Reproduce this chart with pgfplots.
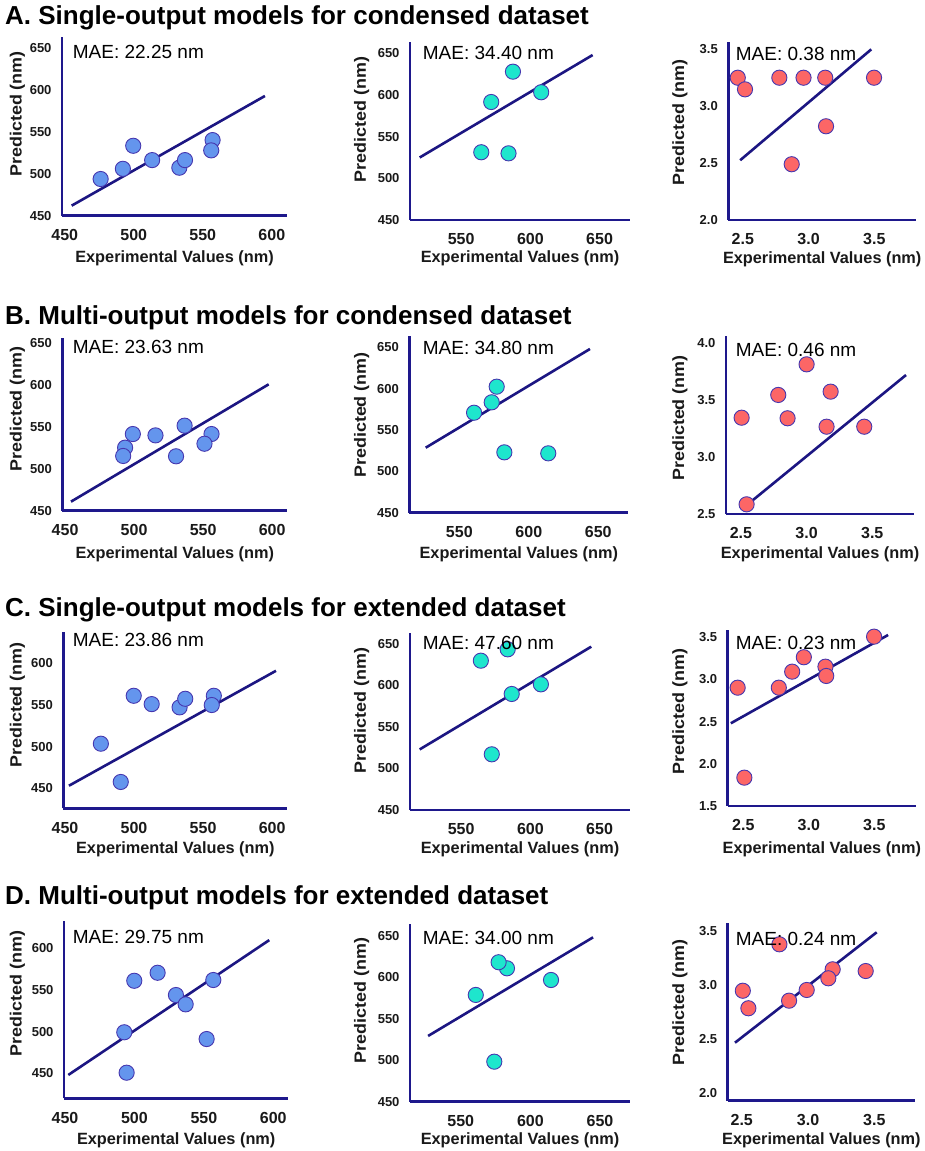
\documentclass[border=0pt]{standalone}
\usepackage{fontspec}
\setmainfont{Liberation Sans}
\usepackage{pgfplots}
\pgfplotsset{compat=1.18}

\definecolor{axisnavy}{RGB}{30,24,140}
\definecolor{fitnavy}{RGB}{28,22,130}
\definecolor{ptblue}{RGB}{100,149,237}
\definecolor{ptcyan}{RGB}{30,230,205}
\definecolor{ptred}{RGB}{252,102,102}
\definecolor{ptedge}{RGB}{70,55,175}

\pgfplotsset{
  panel/.style={
    scale only axis, anchor=south west, clip=false,
    axis x line=bottom, axis y line=left,
    axis line style={-, draw=axisnavy, line width=2.8pt},
    major tick length=0pt,
    /pgf/number format/assume math mode=true,
    xticklabel style={font=\fontsize{16}{18}\selectfont\bfseries, text=black!90, yshift=-10pt},
    yticklabel style={font=\fontsize{13}{15}\selectfont\bfseries, text=black!90, xshift=-7pt},
  },
  onedec/.style={
    xticklabel style={/pgf/number format/.cd, fixed, fixed zerofill, precision=1},
    yticklabel style={/pgf/number format/.cd, fixed, fixed zerofill, precision=1},
  },
  fit/.style={draw=fitnavy, line width=2.6pt, no marks},
  pts/.style={only marks, mark=*, mark size=7.6pt,
    mark options={fill=#1, draw=ptedge, line width=0.9pt}},
}
\newcommand{\mae}[3]{\node[anchor=west, inner sep=0pt, font=\fontsize{19}{22}\selectfont] at (#1pt,#2pt) {MAE: #3 nm};}
\newcommand{\xlab}[2]{\node[font=\fontsize{16.3}{18}\selectfont\bfseries, text=black!90] at (#1pt,#2pt) {Experimental Values (nm)};}
\newcommand{\ylab}[2]{\node[rotate=90, font=\fontsize{16.3}{18}\selectfont\bfseries, text=black!90] at (#1pt,#2pt) {\scalebox{1.1}[1]{Predicted (nm)}};}
\newcommand{\rowtitle}[2]{\node[anchor=west, inner sep=0pt, font=\fontsize{26}{30}\selectfont\bfseries] at (5pt,#1pt) {#2};}

\begin{document}
\begin{tikzpicture}
\path[use as bounding box] (0pt,0pt) rectangle (925pt,1151pt);

% ---------------- Row A ----------------
\rowtitle{1133}{A. Single-output models for condensed dataset}
\begin{axis}[panel, at={(62pt,935.3pt)}, width=225pt, height=179pt,
  xmin=448, xmax=611, ymin=450, ymax=663.8,
  xtick={450,500,550,600}, ytick={450,500,550,600,650}]
  \addplot[fit] coordinates {(455,462) (595,593)};
  \addplot[pts=ptblue] coordinates {
    (476,493.8) (492.1,506) (499.6,533.5) (513.3,516.4)
    (533,507.3) (537.1,516.4) (557.1,540.3) (556.1,528)};
\end{axis}
\begin{axis}[panel, at={(410pt,931pt)}, width=220pt, height=178.3pt,
  xmin=513, xmax=672, ymin=450, ymax=664,
  xtick={550,600,650}, ytick={450,500,550,600,650}]
  \addplot[fit] coordinates {(520,525) (645,648)};
  \addplot[pts=ptcyan] coordinates {
    (587.4,628) (571.7,591.6) (607.8,603.3) (564.5,531.3) (584.2,530)};
\end{axis}
\begin{axis}[panel, onedec, at={(728.3pt,931pt)}, width=187.7pt, height=178.3pt,
  xmin=2.39, xmax=3.817, ymin=2.0, ymax=3.564,
  xtick={2.5,3.0,3.5}, ytick={2.0,2.5,3.0,3.5}]
  \addplot[fit] coordinates {(2.48,2.524) (3.477,3.497)};
  \addplot[pts=ptred] coordinates {
    (2.462,3.248) (2.517,3.146) (2.778,3.248) (2.962,3.248)
    (3.127,3.248) (3.498,3.248) (3.133,2.822) (2.872,2.489)};
\end{axis}
\mae{72.7}{1099.3}{22.25}
\mae{422.7}{1098.3}{34.40}
\mae{735.7}{1097}{0.38}
\xlab{174.5}{892.7} \xlab{520}{892.7} \xlab{822.2}{892.2}
\ylab{17.3}{1037} \ylab{361.7}{1031.5} \ylab{680}{1028.5}

% ---------------- Row B ----------------
\rowtitle{833}{B. Multi-output models for condensed dataset}
\begin{axis}[panel, at={(62.3pt,640.3pt)}, width=225pt, height=172.4pt,
  xmin=448, xmax=611, ymin=450, ymax=656,
  xtick={450,500,550,600}, ytick={450,500,550,600,650}]
  \addplot[fit] coordinates {(454.3,460.8) (597.5,601)};
  \addplot[pts=ptblue] coordinates {
    (493.5,525.3) (492.1,515.4) (499.1,541.6) (515.5,540)
    (536.6,551.6) (530.4,515) (556.1,541.6) (551,530)};
\end{axis}
\begin{axis}[panel, at={(409.3pt,638.3pt)}, width=219pt, height=176.7pt,
  xmin=514, xmax=671.6, ymin=450, ymax=663.7,
  xtick={550,600,650}, ytick={450,500,550,600,650}]
  \addplot[fit] coordinates {(525.8,528.6) (644,648)};
  \addplot[pts=ptcyan] coordinates {
    (560.6,570.9) (573.3,583.5) (576.9,602.4) (582.4,523) (614,521.8)};
\end{axis}
\begin{axis}[panel, onedec, at={(726pt,637pt)}, width=188pt, height=178pt,
  xmin=2.386, xmax=3.818, ymin=2.5, ymax=4.064,
  xtick={2.5,3.0,3.5}, ytick={2.5,3.0,3.5,4.0}]
  \addplot[fit] coordinates {(2.576,2.608) (3.757,3.721)};
  \addplot[pts=ptred] coordinates {
    (2.505,3.346) (2.543,2.585) (2.784,3.546) (2.855,3.341)
    (3.0,3.815) (3.183,3.575) (3.152,3.267) (3.439,3.267)};
\end{axis}
\mae{72.7}{804.3}{23.63}
\mae{422.7}{803.3}{34.80}
\mae{735.7}{801}{0.46}
\xlab{174.8}{597} \xlab{518.8}{597} \xlab{820}{597}
\ylab{17.3}{742} \ylab{361.7}{736} \ylab{680}{733}

% ---------------- Row C ----------------
\rowtitle{541}{C. Single-output models for extended dataset}
\begin{axis}[panel, at={(63.3pt,342.7pt)}, width=224pt, height=176.6pt,
  xmin=448.8, xmax=611, ymin=426, ymax=637.9,
  xtick={450,500,550,600}, ytick={450,500,550,600}]
  \addplot[fit] coordinates {(452.9,453.1) (602.8,591)};
  \addplot[pts=ptblue] coordinates {
    (476,503.5) (490.4,457.6) (499.8,561) (512.8,551)
    (533,547.1) (537.1,557.4) (557.8,561) (556.3,549.9)};
\end{axis}
\begin{axis}[panel, at={(410pt,341pt)}, width=220pt, height=176.7pt,
  xmin=513, xmax=672, ymin=450, ymax=662.9,
  xtick={550,600,650}, ytick={450,500,550,600,650}]
  \addplot[fit] coordinates {(520,523) (644,646.8)};
  \addplot[pts=ptcyan] coordinates {
    (564.2,629.9) (583.6,643.6) (586.5,589.8) (607.6,601.4) (572.1,517.1)};
\end{axis}
\begin{axis}[panel, onedec, at={(727.7pt,345pt)}, width=188.3pt, height=176pt,
  xmin=2.381, xmax=3.818, ymin=1.5, ymax=3.587,
  xtick={2.5,3.0,3.5}, ytick={1.5,2.0,2.5,3.0,3.5}]
  \addplot[fit] coordinates {(2.405,2.481) (3.605,3.528)};
  \addplot[pts=ptred] coordinates {
    (2.457,2.903) (2.508,1.836) (2.771,2.903) (2.873,3.093)
    (2.962,3.264) (3.127,3.152) (3.133,3.042) (3.498,3.508)};
\end{axis}
\mae{72.7}{511}{23.86}
\mae{422.7}{508.3}{47.60}
\mae{735.7}{507.7}{0.23}
\xlab{175.3}{302} \xlab{520}{302} \xlab{821.9}{302}
\ylab{17.3}{446} \ylab{361.7}{440.7} \ylab{680}{439.3}

% ---------------- Row D ----------------
\rowtitle{253}{D. Multi-output models for extended dataset}
\begin{axis}[panel, at={(64pt,52.7pt)}, width=224.3pt, height=177.3pt,
  xmin=449.3, xmax=610.8, ymin=420, ymax=632.7,
  xtick={450,500,550,600}, ytick={450,500,550,600}]
  \addplot[fit] coordinates {(452.4,448) (597.1,609.8)};
  \addplot[pts=ptblue] coordinates {
    (499.9,561) (516.7,570.6) (556.8,561.9) (529.9,543.9)
    (536.9,532.7) (492.7,499.2) (552,491.1) (494.4,450.7)};
\end{axis}
\begin{axis}[panel, at={(410pt,49.3pt)}, width=220pt, height=177.4pt,
  xmin=513.6, xmax=671.5, ymin=450, ymax=663.7,
  xtick={550,600,650}, ytick={450,500,550,600,650}]
  \addplot[fit] coordinates {(526.6,529.2) (645,648)};
  \addplot[pts=ptcyan] coordinates {
    (560.8,578.6) (583.2,610.7) (577.2,618) (614.8,596.6) (574.1,498.2)};
\end{axis}
\begin{axis}[panel, onedec, at={(727.7pt,50.3pt)}, width=187.3pt, height=177.4pt,
  xmin=2.394, xmax=3.807, ymin=1.932, ymax=3.571,
  xtick={2.5,3.0,3.5}, ytick={2.0,2.5,3.0,3.5}]
  \addplot[fit] coordinates {(2.449,2.468) (3.518,3.488)};
  \addplot[pts=ptred] coordinates {
    (2.784,3.377) (2.508,2.948) (2.550,2.786) (2.857,2.856)
    (2.99,2.955) (3.186,3.146) (3.153,3.063) (3.435,3.130)};
\end{axis}
\mae{72.7}{214.3}{29.75}
\mae{422.7}{213.3}{34.00}
\mae{735.7}{212}{0.24}
\xlab{176.2}{11} \xlab{520}{11} \xlab{821.4}{11}
\ylab{17.3}{157.7} \ylab{361.7}{150.3} \ylab{680}{148.7}
\end{tikzpicture}
\end{document}
